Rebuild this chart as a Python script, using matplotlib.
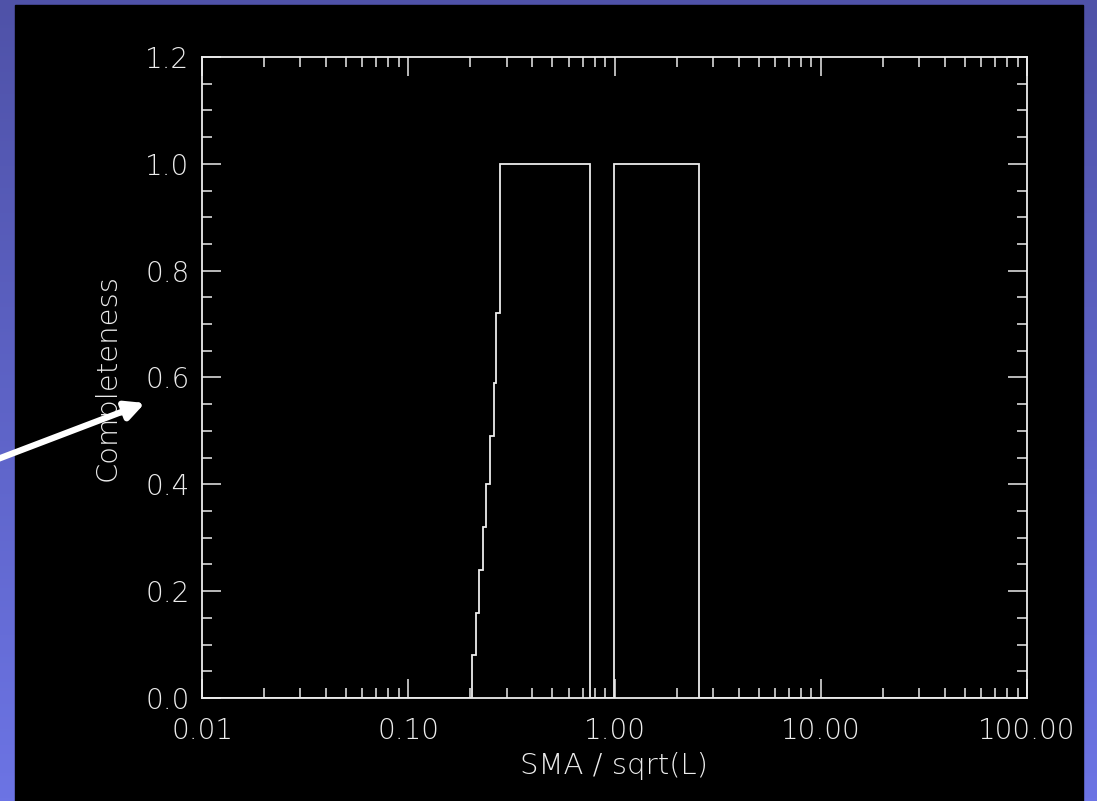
import numpy as np
import matplotlib
matplotlib.use('Agg')
import matplotlib.pyplot as plt
from matplotlib.patches import Rectangle
from matplotlib.ticker import MultipleLocator, LogLocator, FormatStrFormatter, NullFormatter

# Stufenkurve: Bin-Kanten (SMA / sqrt(L)) und Vollständigkeit pro Bin
sma_edges = [0.01, 0.204, 0.213, 0.220, 0.230, 0.237, 0.248, 0.260, 0.267,
             0.279, 0.76, 0.99, 2.58, 100.0]
completeness = [0.0, 0.08, 0.16, 0.24, 0.32, 0.40, 0.49, 0.59, 0.72,
                1.0, 0.0, 1.0, 0.0]

fg = '#ececec'
W, H = 1097, 801
plt.rcParams['font.family'] = ['DejaVu Sans']
plt.rcParams['font.weight'] = 200

fig = plt.figure(figsize=(W / 100, H / 100), dpi=100)

# Hintergrund: blauer Verlauf + schwarze Fläche
bg = fig.add_axes([0, 0, 1, 1])
bg.set_xlim(0, W)
bg.set_ylim(H, 0)
grad = np.linspace(0, 1, 256).reshape(-1, 1)
cmap = matplotlib.colors.LinearSegmentedColormap.from_list('bg', ['#4f52a8', '#6c74e4'])
bg.imshow(grad, cmap=cmap, extent=[0, W, H, 0], aspect='auto')
bg.add_patch(Rectangle((15, 5), 1068, 800, color='black'))
bg.axis('off')

ax = fig.add_axes([202 / W, (H - 698) / H, (1027 - 202) / W, (698 - 57) / H])
ax.set_facecolor('black')
ax.stairs(completeness, sma_edges, color=fg, lw=1.3)

ax.set_xscale('log')
ax.set_xlim(0.01, 100)
ax.set_ylim(0, 1.2)

ax.xaxis.set_major_locator(LogLocator(base=10, numticks=10))
ax.xaxis.set_minor_locator(LogLocator(base=10, subs=np.arange(2, 10), numticks=20))
ax.xaxis.set_major_formatter(FormatStrFormatter('%.2f'))
ax.xaxis.set_minor_formatter(NullFormatter())
ax.yaxis.set_major_locator(MultipleLocator(0.2))
ax.yaxis.set_minor_locator(MultipleLocator(0.05))
ax.yaxis.set_major_formatter(FormatStrFormatter('%.1f'))

for s in ax.spines.values():
    s.set_color(fg)
    s.set_linewidth(1.3)

ax.tick_params(which='both', direction='in', top=True, right=True, colors=fg,
               width=1.1, labelsize=20)
ax.tick_params(which='major', length=14)
ax.tick_params(which='minor', length=7)
ax.tick_params(axis='x', which='major', pad=14)
ax.tick_params(axis='y', which='major', pad=9)

ax.set_xlabel('SMA / sqrt(L)', color=fg, fontsize=21, fontweight=200, labelpad=5)
ax.set_ylabel('Completeness', color=fg, fontsize=21, fontweight=200, labelpad=17)

# Pfeil (oben drüber)
top = fig.add_axes([0, 0, 1, 1], zorder=10)
top.set_xlim(0, W)
top.set_ylim(H, 0)
top.axis('off')
top.annotate('', xy=(145, 403), xytext=(-10, 462),
             arrowprops=dict(arrowstyle='-|>', color='white', lw=4.5,
                             mutation_scale=28, shrinkA=0, shrinkB=0))

fig.savefig('out.png', dpi=100, facecolor='black')
